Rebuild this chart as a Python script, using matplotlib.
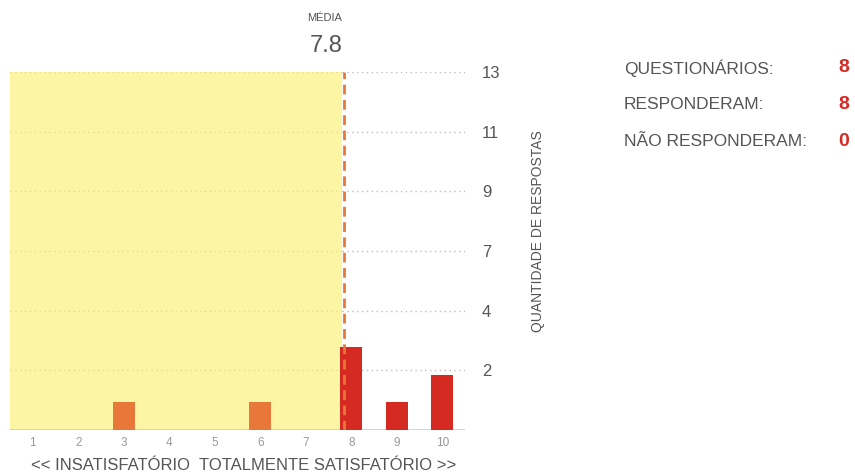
import numpy as np
import matplotlib.pyplot as plt

plt.rcParams['font.family'] = ['Liberation Sans', 'DejaVu Sans']

notas = [1, 2, 3, 4, 5, 6, 7, 8, 9, 10]
respostas = [0, 0, 1, 0, 0, 1, 0, 3, 1, 2]
media = 7.8
y_max = 13
y_ticks = [13 / 6 * k for k in range(1, 7)]
y_labels = ['2', '4', '7', '9', '11', '13']

stats_labels = ['QUESTIONÁRIOS:', 'RESPONDERAM:', 'NÃO RESPONDERAM:']
stats_values = [8, 8, 0]

amarelo = '#fcf6a4'
laranja = '#e8773a'
vermelho = '#d52a22'
cinza = '#555555'


def main():
    fig = plt.figure(figsize=(8.55, 4.74), dpi=100)
    ax = fig.add_axes([0.0117, 0.0928, 0.5323, 0.755])

    ax.set_xlim(0.5, 10.5)
    ax.set_ylim(0, y_max)

    # area ate a media
    ax.fill_between([0.5, media], 0, y_max, color=amarelo, zorder=0, lw=0)

    for yt in y_ticks:
        ax.plot([0.5, media], [yt, yt], color='#e6dc8c', lw=1.0,
                ls=(0, (1, 2.5)), zorder=1)
        ax.plot([media, 10.5], [yt, yt], color='#bdbdbd', lw=1.0,
                ls=(0, (1, 2.5)), zorder=1)

    cores = [laranja if n < media else vermelho for n in notas]
    ax.bar(notas, respostas, width=0.48, color=cores, zorder=3)

    ax.plot([media + 0.04, media + 0.04], [0, y_max], color=laranja, lw=2,
            ls=(0, (3.5, 2)), zorder=4)
    ax.axhline(0, color='#cccccc', lw=1.2, zorder=2)

    for s in ax.spines.values():
        s.set_visible(False)

    ax.set_xticks(notas)
    ax.set_xticklabels([str(n) for n in notas], fontsize=8.5, color='#999999')
    ax.tick_params(axis='x', length=0, pad=5)

    ax.yaxis.tick_right()
    ax.set_yticks(y_ticks)
    ax.set_yticklabels(y_labels, fontsize=12, color=cinza)
    ax.tick_params(axis='y', length=0, pad=12)

    fig.text(538 / 855, 1 - 231 / 474, 'QUANTIDADE DE RESPOSTAS',
             rotation=90, ha='center', va='center', fontsize=10,
             color=cinza)
    fig.text(244 / 855, 1 - 465 / 474,
             '<< INSATISFATÓRIO  TOTALMENTE SATISFATÓRIO >>',
             ha='center', va='center', fontsize=12, color=cinza)

    ax.text(media, y_max + 1.95, 'MÉDIA', ha='right', va='center',
            fontsize=8, color=cinza, clip_on=False)
    ax.text(media, y_max + 0.95, '7.8', ha='right', va='center',
            fontsize=17, color=cinza, clip_on=False)

    for i, (lab, val) in enumerate(zip(stats_labels, stats_values)):
        y = 1 - (68 + i * 36.5) / 474
        fig.text(624 / 855, y, lab, ha='left', va='center', fontsize=12.5,
                 color=cinza)
        fig.text(849 / 855, y, str(val), ha='right', va='center',
                 fontsize=14, color=vermelho, fontweight='bold')

    fig.savefig('out.png', dpi=100)
    plt.close(fig)


if __name__ == '__main__':
    main()
